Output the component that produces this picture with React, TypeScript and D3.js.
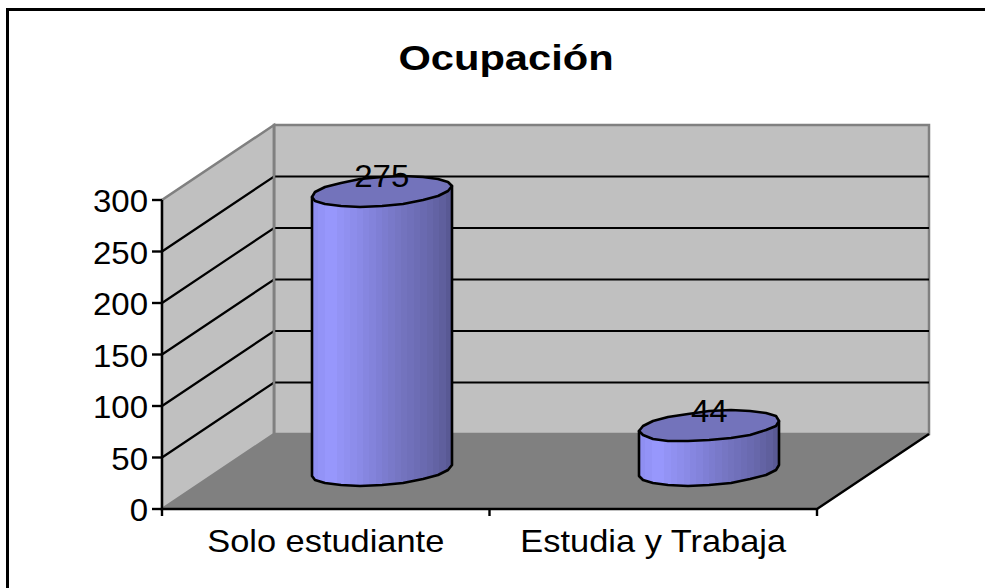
import React from 'react'
import * as d3 from 'd3'

const categories = ['Solo estudiante', 'Estudia y Trabaja']
const values = [275, 44]
const yTicks = [0, 50, 100, 150, 200, 250, 300]
const title = 'Ocupación'

const width = 985
const height = 588
const font = '"Liberation Sans", Arial, sans-serif'

// projected depth of the 3d box
const depth = { x: 112, y: -75 }
const plot = { left: 162, right: 817, top: 200, bottom: 509 }

const x = d3.scaleBand<string>().domain(categories).range([plot.left, plot.right])
const y = d3.scaleLinear().domain([0, 300]).range([plot.bottom, plot.top])

const poly = d3.line<[number, number]>().curve(d3.curveLinearClosed)
const open = d3.line<[number, number]>()

// skewed ellipse inscribed in the base of the bar, snapped to whole pixels for the rough Excel look
const facets = 20
const rx = 66
const skew = 23
const ry = 15.5
const rightmost = Math.atan2(skew, rx)
const barShrink = 0.985 // bars stand mid depth, a bit shorter than the front axis
const pointAt = (cx: number, cy: number, t: number): [number, number] => [
  Math.round(cx + rx * Math.cos(t) + skew * Math.sin(t)),
  Math.round(cy - ry * Math.sin(t)),
]
const ring = (cx: number, cy: number) =>
  d3.range(facets).map(i => pointAt(cx, cy, rightmost + (i / facets) * 2 * Math.PI))
// front half, from the rightmost point round the bottom to the leftmost one
const frontArc = (cx: number, cy: number) =>
  d3.range(facets / 2 + 1).map(i => pointAt(cx, cy, rightmost - (i / facets) * 2 * Math.PI))

const shadeAt = d3.scaleLinear<string>()
  .domain([0, 0.14, 0.2, 0.34, 0.5, 0.64, 0.8, 0.92, 1])
  .range(['#8d8df0', '#9999ff', '#9393f5', '#8a8ae6', '#7d7dd2', '#7474c0', '#6a6ab0', '#60609f', '#565690'])
const bands = 22

function Bar({ name, value }: { name: string; value: number }) {
  const cx = x(name)! + x.bandwidth() / 2 + depth.x / 2
  const base = y(0) + depth.y / 2 - 1
  const top = base - (y(0) - y(value)) * barShrink
  const arc = frontArc(cx, base)
  const topArc = frontArc(cx, top)
  const body: [number, number][] = [topArc[0], ...arc, topArc[topArc.length - 1]]
  return (
    <g>
      <path d={poly(body)!} fill="url(#barShade)" stroke="#000" strokeWidth={2.6} strokeLinejoin="round" />
      <path d={poly(ring(cx, top))!} fill="#7373bb" stroke="#000" strokeWidth={2.6} strokeLinejoin="round" />
      <text
        transform={`translate(${cx},${top - 4}) scale(1.065,1)`}
        textAnchor="middle"
        fontFamily={font}
        fontSize={31}
        fill="#000"
      >
        {value}
      </text>
    </g>
  )
}

export default function App() {
  const front0 = y(0)
  const frontTop = y(300)
  const backL = plot.left + depth.x
  const backR = plot.right + depth.x
  const floorPts: [number, number][] = [
    [plot.left, front0], [backL, front0 + depth.y], [backR, front0 + depth.y], [plot.right, front0],
  ]
  const leftWall: [number, number][] = [
    [plot.left, front0], [backL, front0 + depth.y], [backL, frontTop + depth.y], [plot.left, frontTop],
  ]
  const backWall: [number, number][] = [
    [backL, front0 + depth.y], [backR, front0 + depth.y], [backR, frontTop + depth.y], [backL, frontTop + depth.y],
  ]
  const catEdges = [plot.left, x(categories[1])!, plot.right]

  return (
    <svg width={width} height={height} style={{ position: 'absolute', left: 0, top: 0, background: '#fff' }}>
      <defs>
        <linearGradient id="barShade" x1="0" x2="1" y1="0" y2="0">
          {d3.range(bands).flatMap(i => [
            <stop key={`${i}a`} offset={i / bands} stopColor={shadeAt((i + 0.5) / bands)} />,
            <stop key={`${i}b`} offset={(i + 1) / bands} stopColor={shadeAt((i + 0.5) / bands)} />,
          ])}
        </linearGradient>
      </defs>

      {/* chart frame, only top and left survive the crop */}
      <path d={open([[7.5, height], [7.5, 9.5], [width, 9.5]])!} fill="none" stroke="#000" strokeWidth={3} />

      <text
        transform={`translate(506,70) scale(1.19,1)`}
        textAnchor="middle"
        fontFamily={font}
        fontWeight="bold"
        fontSize={35}
      >
        {title}
      </text>

      <path d={poly(backWall)!} fill="#c0c0c0" stroke="#808080" strokeWidth={2.5} />
      <path d={poly(leftWall)!} fill="#c0c0c0" stroke="#808080" strokeWidth={2.5} />
      <path d={poly(floorPts)!} fill="#808080" />

      {/* gridlines */}
      {yTicks.filter(t => t > 0 && t < 300).map(t => (
        <path
          key={t}
          d={open([[plot.left, y(t)], [backL, y(t) + depth.y], [backR, y(t) + depth.y]])!}
          fill="none"
          stroke="#000"
          strokeWidth={2.2}
        />
      ))}
      <path d={open([[backL, front0 + depth.y], [backL, frontTop + depth.y]])!} stroke="#808080" strokeWidth={2.5} fill="none" />

      {categories.map((c, i) => <Bar key={c} name={c} value={values[i]} />)}

      {/* axes */}
      <path d={open([[plot.left, frontTop], [plot.left, front0], [plot.right, front0], [backR, front0 + depth.y]])!} fill="none" stroke="#000" strokeWidth={2.4} />
      {yTicks.map(t => (
        <g key={t}>
          <line x1={plot.left - 10} x2={plot.left} y1={y(t)} y2={y(t)} stroke="#000" strokeWidth={2.4} />
          <text
            transform={`translate(${plot.left - 14},${y(t) + 12}) scale(1.065,1)`}
            textAnchor="end"
            fontFamily={font}
            fontSize={31}
          >
            {t}
          </text>
        </g>
      ))}
      {catEdges.map(e => <line key={e} x1={e} x2={e} y1={front0} y2={front0 + 7} stroke="#000" strokeWidth={2.4} />)}
      {categories.map(c => (
        <text
          key={c}
          transform={`translate(${x(c)! + x.bandwidth() / 2},552) scale(1.11,1)`}
          textAnchor="middle"
          fontFamily={font}
          fontSize={31}
        >
          {c}
        </text>
      ))}
    </svg>
  )
}
